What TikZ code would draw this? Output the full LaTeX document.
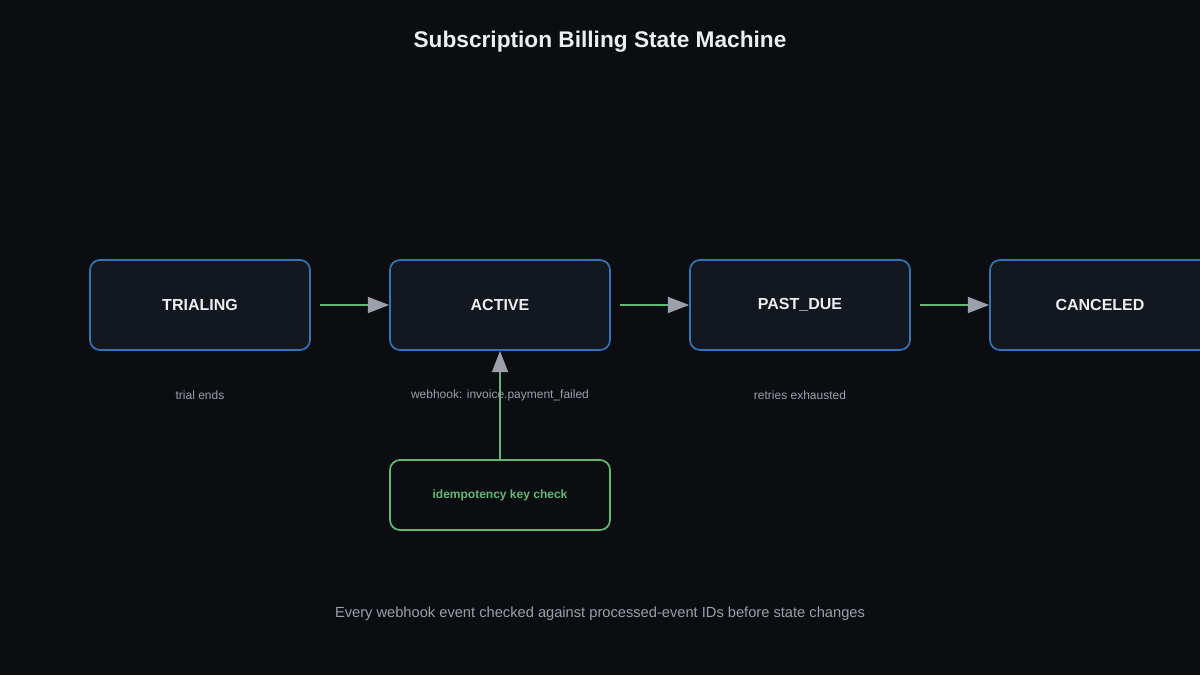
\documentclass[tikz,border=0pt]{standalone}
\usepackage{fontspec}
\setmainfont{Liberation Sans}
\usetikzlibrary{arrows.meta, positioning}
\definecolor{bgdark}{HTML}{0B0D11}
\definecolor{boxfill}{HTML}{131820}
\definecolor{boxline}{HTML}{3274B4}
\definecolor{okgreen}{HTML}{62B774}
\definecolor{tipgray}{HTML}{9AA1AB}
\definecolor{txtlight}{HTML}{ECEEF0}
\definecolor{txtgray}{HTML}{9AA1AB}

\tikzset{
	state/.style={draw=boxline, line width=1.3pt, fill=boxfill, rounded corners=7.5pt,
		minimum width=165pt, minimum height=67.5pt, text=txtlight,
		font=\fontsize{12}{14}\selectfont\bfseries},
	check/.style={draw=okgreen, line width=1.3pt, fill=bgdark, rounded corners=7.5pt,
		minimum width=165pt, minimum height=52.5pt, text=okgreen,
		font=\fontsize{9}{11}\selectfont\bfseries},
	edge/.style={draw=okgreen, line width=1.4pt,
		-{Triangle[color=tipgray, length=16pt, width=12pt]}},
	note/.style={text=txtgray, font=\fontsize{9}{11}\selectfont}
}

\begin{document}
\begin{tikzpicture}[x=0.75pt,y=-0.75pt]

	\fill [bgdark] (0,0) rectangle (1200,675);
	\useasboundingbox (0,0) rectangle (1200,675);
	\clip (0,0) rectangle (1200,675);

	\node [text=txtlight, font=\fontsize{17}{20}\selectfont\bfseries] (title) at (600,42) {Subscription Billing State Machine};

	\node [state] (trialing) at (200,305) {TRIALING};
	\node [state] (active) at (500,305) {ACTIVE};
	\node [state] (pastdue) at (800,305) {PAST\_DUE};
	\node [state] (canceled) at (1100,305) {CANCELED};

	\node [check] (idem) at (500,495) {idempotency key check};

	\coordinate (s1) at (320,305);
	\coordinate (s2) at (620,305);
	\coordinate (s3) at (920,305);

	\draw [edge] (s1) -- (active.west);
	\draw [edge] (s2) -- (pastdue.west);
	\draw [edge] (s3) -- (canceled.west);
	\draw [edge] (idem.north) -- (active.south);

	\node [note] (l1) at (200,395) {trial ends};
	\node [note] (l2) at (500,395) {webhook: invoice.payment\_failed};
	\node [note] (l3) at (800,395) {retries exhausted};

	\node [text=txtgray, font=\fontsize{11}{13}\selectfont] (foot) at (600,614) {Every webhook event checked against processed-event IDs before state changes};

\end{tikzpicture}
\end{document}
